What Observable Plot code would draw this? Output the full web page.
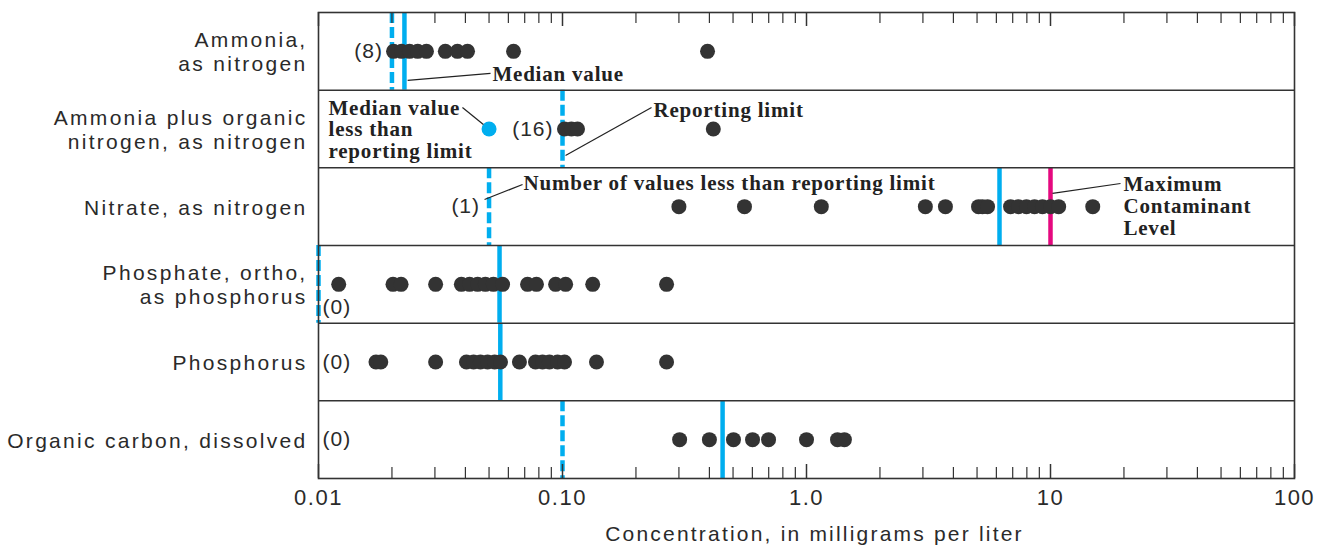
<!DOCTYPE html>
<html><head><meta charset="utf-8">
<script src="https://cdn.jsdelivr.net/npm/d3@7"></script>
<script src="https://cdn.jsdelivr.net/npm/@observablehq/plot@0.6"></script>
<style>
html,body{margin:0;padding:0;background:#fff}
#chart svg{display:block;background:#fff}
</style></head><body><div id="chart"></div><script>
// ---- data ----
const constituents = [
  "Ammonia,\nas nitrogen",
  "Ammonia plus organic\nnitrogen, as nitrogen",
  "Nitrate, as nitrogen",
  "Phosphate, ortho,\nas phosphorus",
  "Phosphorus",
  "Organic carbon, dissolved"
];
const ammonia = [0.0203, 0.0219, 0.0236, 0.0255, 0.0277, 0.0331, 0.0371, 0.0408, 0.063, 0.393];
const ammoniaOrganic = [0.1019, 0.1088, 0.1152, 0.415];
const nitrate = [0.30, 0.557, 1.15, 3.07, 3.71, 5.07, 5.26, 5.52, 6.86, 7.39, 7.97, 8.60, 9.27, 10.0, 10.8, 14.9];
const phosphate = [0.0121, 0.0202, 0.0218, 0.0302, 0.0385, 0.0416, 0.0449, 0.0483, 0.0521, 0.0568, 0.0719, 0.0782, 0.0937, 0.103, 0.133, 0.267];
const phosphorus = [0.0172, 0.0180, 0.0302, 0.0404, 0.0432, 0.0461, 0.0493, 0.0527, 0.0557, 0.0666, 0.0775, 0.0828, 0.0884, 0.0954, 0.1019, 0.1378, 0.267];
const organicCarbon = [0.302, 0.40, 0.502, 0.601, 0.699, 1.0, 1.34, 1.43];
const seriesValues = [ammonia, ammoniaOrganic, nitrate, phosphate, phosphorus, organicCarbon];
const reportingLimits = [0.02, 0.1, 0.05, 0.01, null, 0.1];
const medians = [0.0225, null, 6.18, 0.0552, 0.0556, 0.453];
const mediansBelowLimit = [null, 0.05, null, null, null, null];
const maxContaminantLevels = [null, null, 10, null, null, null];
const belowLimitCounts = [8, 16, 1, 0, 0, 0];
const majorTicks = [0.01, 0.1, 1, 10, 100];
const tickLabels = ["0.01", "0.10", "1.0", "10", "100"];
const minorMultipliers = [2, 3, 4, 5, 6, 7, 8, 9];
const xTitle = "Concentration, in milligrams per liter";

// ---- derived tables ----
const rows = constituents.map((label, i) => ({
  row: i, label,
  rl: reportingLimits[i], median: medians[i], below: mediansBelowLimit[i],
  mcl: maxContaminantLevels[i], count: belowLimitCounts[i]
}));
const points = seriesValues.flatMap((vals, i) => vals.map(v => ({row: i, value: v})));
const minorTicks = majorTicks.slice(0, -1).flatMap(d => minorMultipliers.map(m => +(d * m).toPrecision(3)));

// ---- layout ----
const W = 1322, H = 547, mT = 12, mB = 69, mL = 318, mR = 28;
const innerH = H - mT - mB;
const BLUE = "#00aeef", MAGENTA = "#e5097f", DOT = "#333333", INK = "#2a2a2a";
const SANS = "Liberation Sans, Arial, sans-serif";
const SERIF = "Liberation Serif, Times New Roman, serif";

// letter-spacing through the mark's render hook
const spaced = ls => ({
  render(index, scales, values, dims, ctx, next) {
    const g = next(index, scales, values, dims, ctx);
    if (g) g.setAttribute("letter-spacing", ls);
    return g;
  }
});

const annotations = [
  {x: 0.0516, y: 0.798, text: "Median value"},
  {x: 0.01099, y: 1.506, text: "Median value\nless than\nreporting limit"},
  {x: 0.236, y: 1.262, text: "Reporting limit"},
  {x: 0.0692, y: 2.202, text: "Number of values less than reporting limit"},
  {x: 19.9, y: 2.491, text: "Maximum\nContaminant\nLevel"}
];
const leaders = [
  {x1: 0.0232, y1: 0.875, x2: 0.0507, y2: 0.785},
  {x1: 0.0389, y1: 1.223, x2: 0.0474, y2: 1.442},
  {x1: 0.1029, y1: 1.841, x2: 0.2317, y2: 1.223},
  {x1: 0.0479, y1: 2.408, x2: 0.0686, y2: 2.2145},
  {x1: 10.19, y1: 2.330, x2: 19.36, y2: 2.2016}
];

const countsAtLimit = rows.filter(r => r.count > 0);
const countsAtEdge = rows.filter(r => r.count === 0);

const chart = Plot.plot({
  width: W, height: H,
  marginTop: mT, marginBottom: mB, marginLeft: mL, marginRight: mR,
  style: {fontFamily: SANS, background: "#fff", color: INK},
  x: {type: "log", domain: [0.01, 100], axis: null},
  y: {domain: [0, 6], reverse: true, axis: null},
  marks: [
    // reporting limits (dashed)
    Plot.ruleX(rows.filter(r => r.rl != null), {x: "rl", y1: "row", y2: d => d.row + 1, stroke: BLUE, strokeWidth: 4.5, strokeDasharray: "11,4"}),
    // medians
    Plot.ruleX(rows.filter(r => r.median != null), {x: "median", y1: "row", y2: d => d.row + 1, stroke: BLUE, strokeWidth: 4.5}),
    // MCL
    Plot.ruleX(rows.filter(r => r.mcl != null), {x: "mcl", y1: "row", y2: d => d.row + 1, stroke: MAGENTA, strokeWidth: 4.5}),
    // row separators & frame
    Plot.ruleY(d3.range(1, constituents.length), {stroke: "#333", strokeWidth: 1.5}),
    Plot.frame({stroke: "#333", strokeWidth: 1.6}),
    // ticks inside frame, bottom and top
    Plot.ruleX(minorTicks, {x: d => d, insetTop: innerH - 11, stroke: "#333", strokeWidth: 1.2}),
    Plot.ruleX(minorTicks, {x: d => d, insetBottom: innerH - 11, stroke: "#333", strokeWidth: 1.2}),
    Plot.ruleX(majorTicks, {x: d => d, insetTop: innerH - 14, stroke: "#333", strokeWidth: 1.5}),
    Plot.ruleX(majorTicks, {x: d => d, insetBottom: innerH - 14, stroke: "#333", strokeWidth: 1.5}),
    // data dots
    Plot.dot(points, {x: "value", y: d => d.row + 0.5, r: 7.5, fill: DOT, stroke: "none"}),
    Plot.dot(rows.filter(r => r.below != null), {x: "below", y: d => d.row + 0.5, r: 7.5, fill: BLUE, stroke: "none"}),
    // leader lines
    Plot.link(leaders, {x1: "x1", y1: "y1", x2: "x2", y2: "y2", stroke: "#222", strokeWidth: 1.2}),
    // annotations
    Plot.text(annotations, {x: "x", y: "y", text: "text", textAnchor: "start", lineAnchor: "middle", lineHeight: 1.03,
      fontFamily: SERIF, fontWeight: "bold", fontSize: 21, fill: "#222", ...spaced("0.8px")}),
    // counts of values below reporting limit
    Plot.text(countsAtLimit, {x: "rl", y: d => d.row + 0.5, text: d => `(${d.count})`, textAnchor: "end", dx: -9,
      fontSize: 21, fill: INK, ...spaced("1px")}),
    Plot.text(countsAtEdge, {x: () => 0.01, y: d => d.row + (d.rl === 0.01 ? 0.8 : 0.5), text: d => `(${d.count})`, textAnchor: "start", dx: 4,
      fontSize: 21, fill: INK, ...spaced("1px")}),
    // row labels
    Plot.text(rows, {frameAnchor: "left", y: d => d.row + 0.5, text: "label", textAnchor: "end", dx: -11, lineAnchor: "middle",
      lineHeight: 1.17, fontSize: 21, fill: INK, ...spaced("2.3px")}),
    // tick labels
    Plot.axisX(majorTicks, {anchor: "bottom", tickSize: 0, tickPadding: 11, tickFormat: d => tickLabels[majorTicks.indexOf(d)],
      fontSize: 22, label: null, fill: INK}),
    // axis title
    Plot.text([xTitle], {frameAnchor: "bottom", text: d => d, dy: 56, dx: 8, lineAnchor: "middle", fontSize: 21, fill: INK, ...spaced("2.2px")})
  ]
});
// spacing for the axis tick labels
chart.querySelectorAll('g[aria-label="x-axis tick label"]').forEach(g => g.setAttribute("letter-spacing", "1.5px"));
document.getElementById("chart").appendChild(chart);
</script></body></html>
